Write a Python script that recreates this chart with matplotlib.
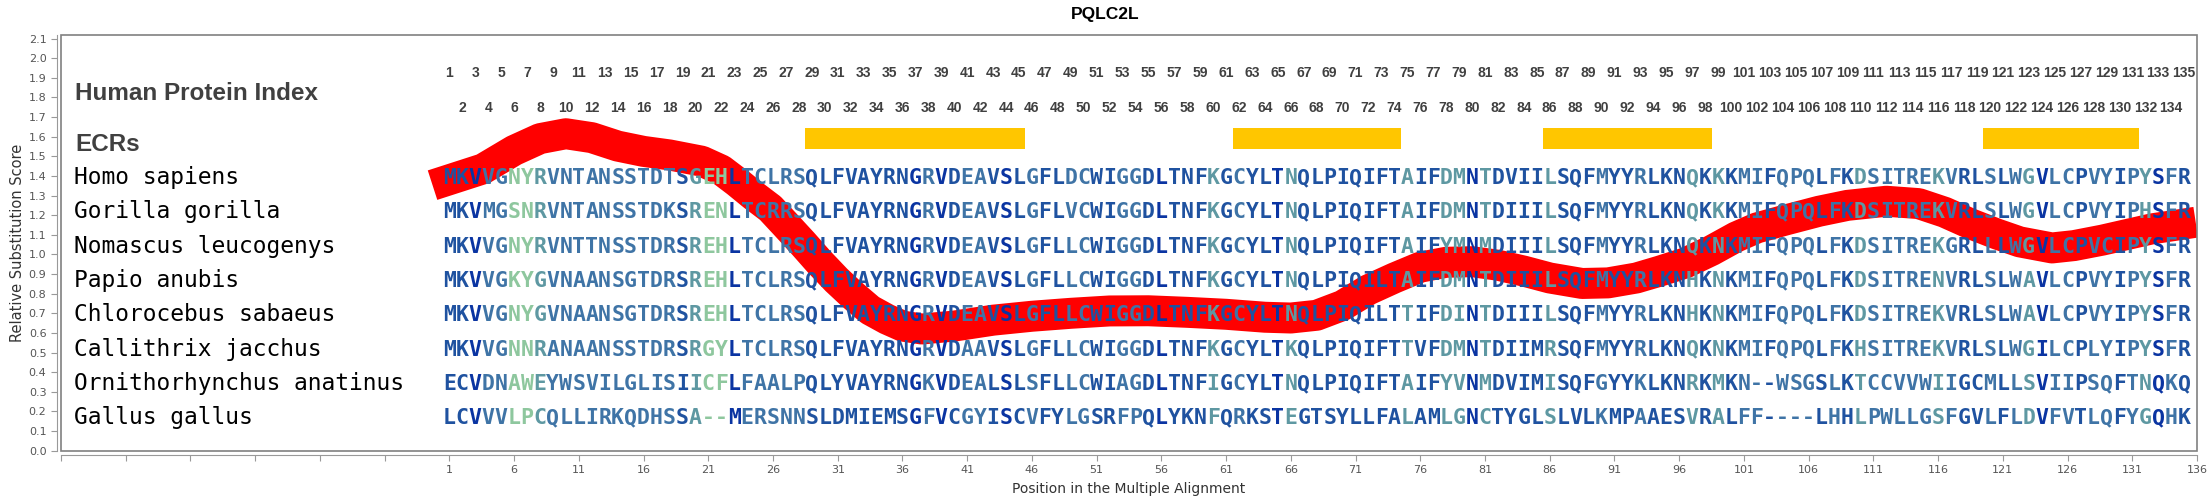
import matplotlib
matplotlib.use("Agg")
import matplotlib.pyplot as plt
from matplotlib.patches import Rectangle

# species and aligned sequences (positions 1..135)
species = ["Homo sapiens", "Gorilla gorilla", "Nomascus leucogenys", "Papio anubis",
           "Chlorocebus sabaeus", "Callithrix jacchus", "Ornithorhynchus anatinus", "Gallus gallus"]
sequences = [
    "MKVVGNYRVNTANSSTDTSGEHLTCLRSQLFVAYRNGRVDEAVSLGFLDCWIGGDLTNFKGCYLTNQLPIQIFTAIFDMNTDVIILSQFMYYRLKNQKKKMIFQPQLFKDSITREKVRLSLWGVLCPVYIPYSFR",
    "MKVMGSNRVNTANSSTDKSRENLTCRRSQLFVAYRNGRVDEAVSLGFLVCWIGGDLTNFKGCYLTNQLPIQIFTAIFDMNTDIIILSQFMYYRLKNQKKKMIFQPQLFKDSITREKVRLSLWGVLCPVYIPHSFR",
    "MKVVGNYRVNTTNSSTDRSREHLTCLRSQLFVAYRNGRVDEAVSLGFLLCWIGGDLTNFKGCYLTNQLPIQIFTAIFYMNMDIIILSQFMYYRLKNQKNKMIFQPQLFKDSITREKGRLLLWGVLCPVCIPYSFR",
    "MKVVGKYGVNAANSGTDRSREHLTCLRSQLFVAYRNGRVDEAVSLGFLLCWIGGDLTNFKGCYLTNQLPIQILTAIFDMNTDIIILSQFMYYRLKNHKNKMIFQPQLFKDSITRENVRLSLWAVLCPVYIPYSFR",
    "MKVVGNYGVNAANSGTDRSREHLTCLRSQLFVAYRNGRVDEAVSLGFLLCWIGGDLTNFKGCYLTNQLPIQILTTIFDINTDIIILSQFMYYRLKNHKNKMIFQPQLFKDSITREKVRLSLWAVLCPVYIPYSFR",
    "MKVVGNNRANAANSSTDRSRGYLTCLRSQLFVAYRNGRVDAAVSLGFLLCWIGGDLTNFKGCYLTKQLPIQIFTTVFDMNTDIIMRSQFMYYRLKNQKNKMIFQPQLFKHSITREKVRLSLWGILCPLYIPYSFR",
    "ECVDNAWEYWSVILGLISIICFLFAALPQLYVAYRNGKVDEALSLSFLLCWIAGDLTNFIGCYLTNQLPIQIFTAIFYVNMDVIMISQFGYYKLKNRKMKN--WSGSLKTCCVVWIIGCMLLSVIIPSQFTNQKQ",
    "LCVVVLPCQLLIRKQDHSSA--MERSNNSLDMIEMSGFVCGYISCVFYLGSRFPQLYKNFQRKSTEGTSYLLFALAMLGNCTYGLSLVLKMPAAESVRALFF----LHHLPWLLGSFGVLFLDVFVTLQFYGQHK",
]
# colour level per alignment column (0 = darkest blue ... 4 = light green)
col_levels = ("1102244322" "2222222213" "4402222211" "1111110201" "2210121122"
              "1122101113" "1211031111" "1111311330" "3111131112" "1121113131"
              "2212221213" "2222232112" "1230221221" "23021")
level_colors = ["#0a34a2", "#1f52a0", "#3f74a6", "#5e98a2", "#8ec79e"]

# evolutionarily conserved regions (start, end)
ecr_start = [29, 62, 86, 120]
ecr_end = [45, 74, 98, 131]

# relative substitution score curve
score_x = [-0.3, 3.6, 6, 8, 10, 12, 14, 16, 18, 20.5, 22, 23.2, 24.5, 25.8, 27, 28.3, 29.6,
           30.9, 32.2, 33.5, 34.8, 36, 37.5, 40, 43, 46, 49, 52, 55, 58, 61, 64, 66, 68, 70,
           72, 74, 76, 78, 80, 82, 84, 86, 88.5, 90.5, 92.7, 94.5, 96.5, 98.5, 100.4, 102,
           104.25, 106.8, 109, 112, 114.5, 116.5, 118.4, 120.5, 122.3, 124.8, 126.5, 128.7,
           130.5, 132.5, 135.9]
score_y = [1.353, 1.436, 1.53, 1.59, 1.615, 1.595, 1.552, 1.525, 1.507, 1.475, 1.43, 1.37,
           1.30, 1.235, 1.15, 1.057, 0.96, 0.87, 0.79, 0.717, 0.67, 0.635, 0.62, 0.635, 0.665,
           0.685, 0.70, 0.712, 0.713, 0.705, 0.695, 0.68, 0.676, 0.69, 0.74, 0.82, 0.88, 0.935,
           0.96, 0.963, 0.945, 0.915, 0.88, 0.852, 0.855, 0.88, 0.915, 0.957, 1.02, 1.089, 1.135,
           1.176, 1.22, 1.25, 1.271, 1.259, 1.215, 1.159, 1.105, 1.064, 1.033, 1.045, 1.073,
           1.10, 1.13, 1.164]

fig = plt.figure(figsize=(22.1, 5), dpi=100)
ax = fig.add_axes([61 / 2210, 49.3 / 500, 2136 / 2210, 415.7 / 500])
ax.set_xlim(-29, 136)
ax.set_ylim(0, 2.118)

# red score curve (under the letters)
ax.plot(score_x, score_y, color="#ff0000", lw=22.3, solid_capstyle="butt",
        solid_joinstyle="round", zorder=1)

# ECR bars
for s, e in zip(ecr_start, ecr_end):
    ax.barh(1.59, e - s + 1, left=s - 0.5, height=0.106, color="#ffc600", zorder=2)

# header labels
ax.text(-27.9, 1.787, "Human Protein Index", fontsize=17.5, fontweight="bold",
        family="Liberation Sans", color="#404040", va="baseline")
ax.text(-27.9, 1.529, "ECRs", fontsize=17.5, fontweight="bold",
        family="Liberation Sans", color="#404040", va="baseline")

# protein index numbers
for i in range(1, 136):
    y = 1.903 if i % 2 == 1 else 1.725
    ax.text(i, y, str(i), fontsize=10, fontweight="bold", family="Liberation Sans",
            color="#404040", ha="center", va="baseline")

# species names and aligned residues
for r, (name, seq) in enumerate(zip(species, sequences)):
    yb = 1.359 - 0.175 * r
    ax.text(-28, yb, name, fontsize=16.5, family="DejaVu Sans Mono", color="black",
            va="baseline")
    for j, ch in enumerate(seq):
        ax.text(j + 1, yb, ch, fontsize=15.5, family="DejaVu Sans Mono", fontweight="bold",
                color=level_colors[int(col_levels[j])], ha="center", va="baseline", zorder=3)

# axes styling
for side in ["top", "right"]:
    ax.spines[side].set_visible(False)
for side in ["left", "bottom"]:
    ax.spines[side].set_position(("outward", 3))
    ax.spines[side].set_color("#999999")
ax.add_patch(Rectangle((0, 0), 1, 1, transform=ax.transAxes, fill=False,
                       edgecolor="#808080", lw=1.2, clip_on=False, zorder=5))

ax.set_yticks([k / 10 for k in range(22)])
ax.set_yticklabels([f"{k / 10:.1f}" for k in range(22)])
xt = list(range(-29, 137, 5))
ax.set_xticks(xt)
ax.set_xticklabels([str(t) if t >= 1 else "" for t in xt])
ax.tick_params(axis="both", colors="#999999", labelcolor="#555555", labelsize=8,
               length=4, width=0.8)

ax.set_ylabel("Relative Substitution Score", fontsize=10.5, color="#333333", labelpad=3)
ax.set_xlabel("Position in the Multiple Alignment", fontsize=10, color="#333333", labelpad=5)
fig.text(0.5, 0.972, "PQLC2L", fontsize=12.5, fontweight="bold", family="Liberation Sans",
         ha="center", va="center")

fig.savefig("out.png", dpi=100)
